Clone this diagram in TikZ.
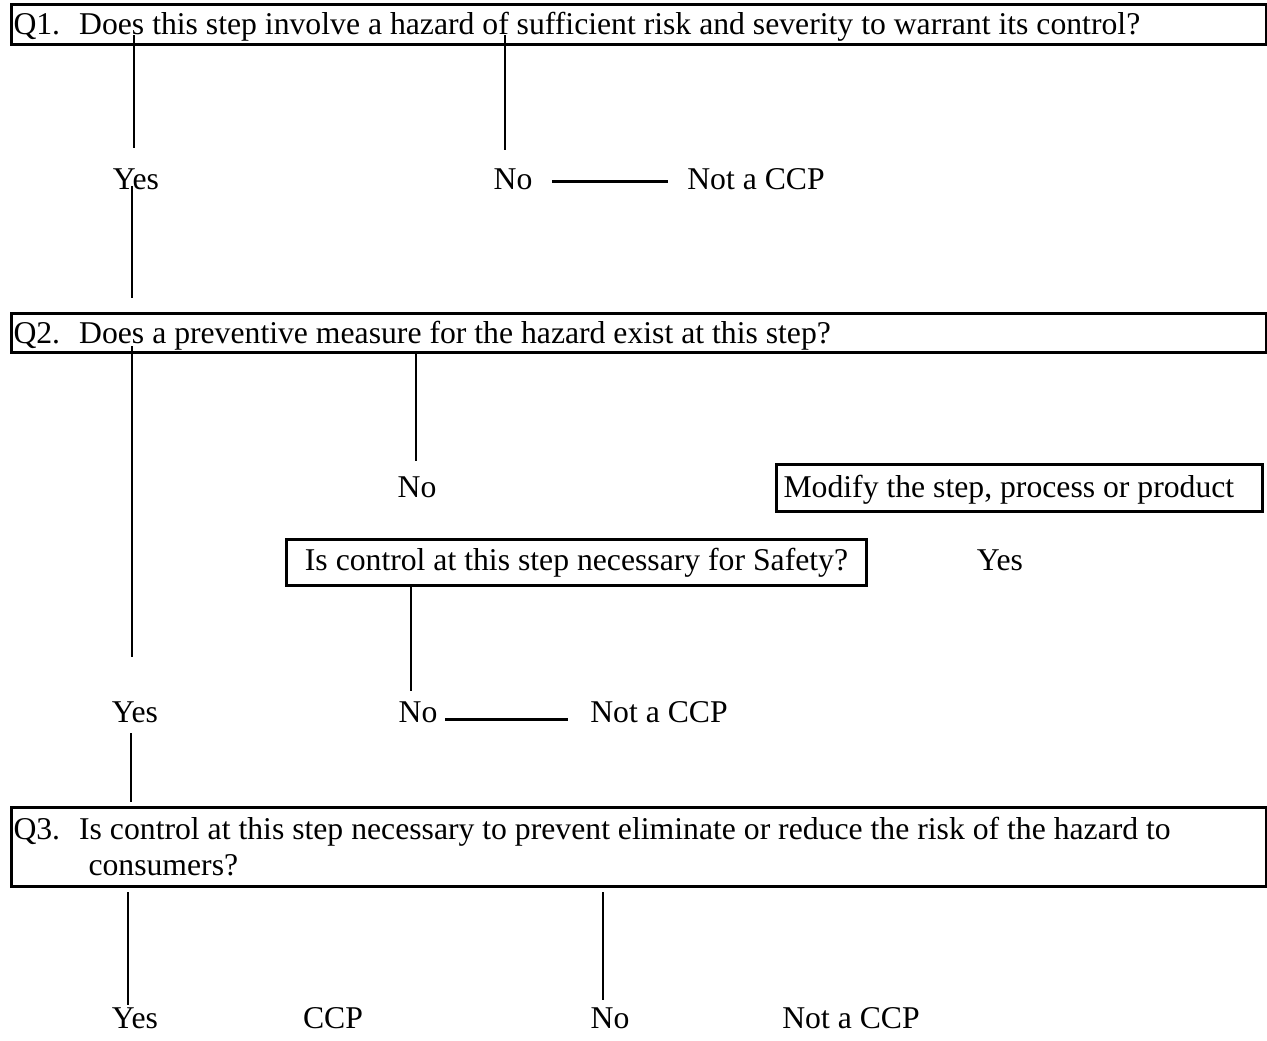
\documentclass[tikz,border=0pt]{standalone}
\usepackage{fontspec}
\setmainfont{Liberation Serif}
\begin{document}
\begin{tikzpicture}[x=0.5pt,y=-0.5pt,
  qbox/.style={draw,line width=1.5pt,anchor=north west,inner xsep=1pt,inner ysep=0pt,
    text width=625.5pt,align=flush left},
  lbl/.style={anchor=base,inner sep=0pt},
  vline/.style={line width=1pt},
  hline/.style={line width=1.5pt}]
\fontsize{15.85}{18}\selectfont
\useasboundingbox (0,0) rectangle (1267,1040);

% question boxes
\node[qbox,minimum height=20pt,text height=14pt,text depth=4pt] (q1) at (10,3)
  {Q1.\hspace{0.6em}Does this step involve a hazard of sufficient risk and severity to warrant its control?};
\node[qbox,minimum height=19.5pt,text height=14pt,text depth=4pt] (q2) at (10,312)
  {Q2.\hspace{0.6em}Does a preventive measure for the hazard exist at this step?};
\node[qbox,minimum height=39.5pt] (q3) at (10,806)
  {Q3.\hspace{0.6em}Is control at this step necessary to prevent eliminate or reduce the risk of the hazard to\\
   \hspace*{37.5pt}consumers?};
\node[draw,line width=1.5pt,anchor=north west,inner xsep=3.5pt,inner ysep=0pt,
  text width=236pt,align=flush left,minimum height=23.5pt,text height=13pt,text depth=4pt] (modify) at (775,463)
  {Modify the step, process or product};
\node[draw,line width=1.5pt,anchor=north west,inner sep=0pt,
  minimum width=290pt,minimum height=23pt] (safety) at (285,538)
  {Is control at this step necessary for Safety?};

% answers
\node[lbl] (yes1) at (136,189) {Yes};
\node[lbl] (no1) at (513,189) {No};
\node[lbl] (not1) at (756,189) {Not a CCP};
\node[lbl] (no2) at (417,497) {No};
\node[lbl] (yes3) at (1000,570) {Yes};
\node[lbl] (yes4) at (135,722) {Yes};
\node[lbl] (no4) at (418,722) {No};
\node[lbl] (not4) at (659,722) {Not a CCP};
\node[lbl] (yes5) at (135,1028) {Yes};
\node[lbl] (ccp5) at (333,1028) {CCP};
\node[lbl] (no5) at (610,1028) {No};
\node[lbl] (not5) at (851,1028) {Not a CCP};

% line ends
\coordinate (a1) at (134,35);
\coordinate (a2) at (134,148);
\coordinate (b1) at (505,35);
\coordinate (b2) at (505,150);
\coordinate (c1) at (552,181);
\coordinate (c2) at (668,181);
\coordinate (d1) at (132,186);
\coordinate (d2) at (132,298);
\coordinate (e1) at (132,346);
\coordinate (e2) at (132,657);
\coordinate (f2) at (416,461);
\coordinate (g2) at (411,691);
\coordinate (h1) at (445,719);
\coordinate (h2) at (568,719);
\coordinate (i1) at (131,733);
\coordinate (i2) at (131,802);
\coordinate (j1) at (128,892);
\coordinate (j2) at (128,1005);
\coordinate (k1) at (603,892);
\coordinate (k2) at (603,1000);

\draw[vline] (a1) -- (a2);
\draw[vline] (b1) -- (b2);
\draw[hline] (c1) -- (c2);
\draw[vline] (d1) -- (d2);
\draw[vline] (e1) -- (e2);
\draw[vline] (q2.south -| f2) -- (f2);
\draw[vline] (safety.south -| g2) -- (g2);
\draw[hline] (h1) -- (h2);
\draw[vline] (i1) -- (i2);
\draw[vline] (j1) -- (j2);
\draw[vline] (k1) -- (k2);
\end{tikzpicture}
\end{document}
